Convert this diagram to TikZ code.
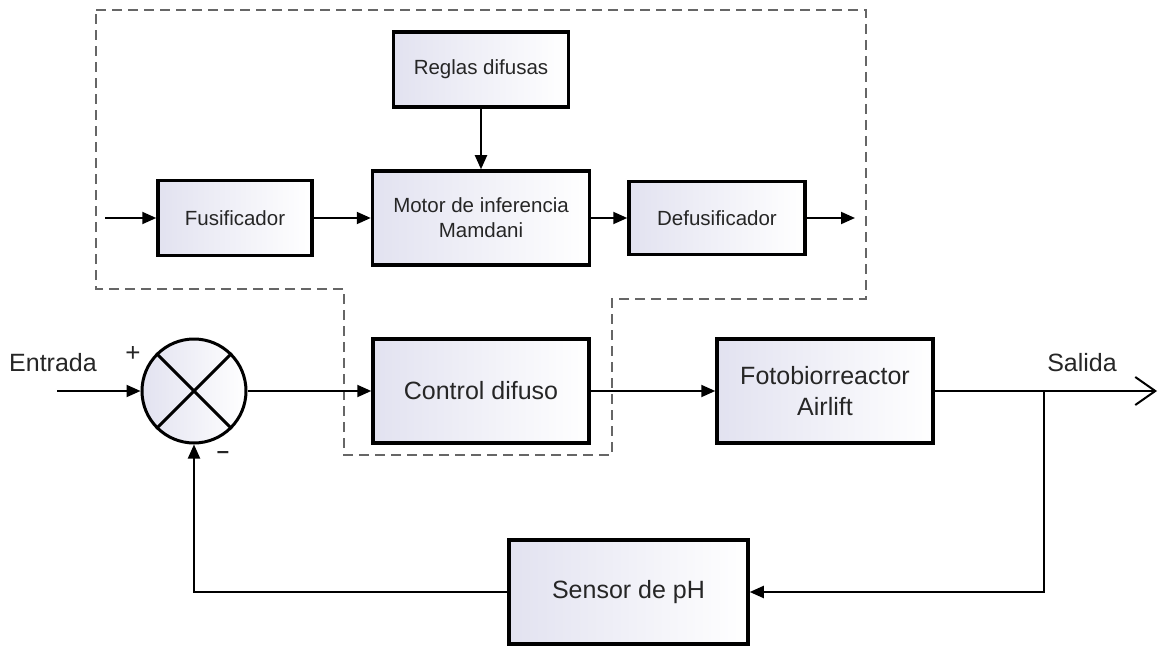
\documentclass[tikz,border=0pt]{standalone}
\usepackage{fontspec}
\setmainfont{Liberation Sans}
\usetikzlibrary{arrows.meta, positioning, calc}
\definecolor{lila}{RGB}{226,226,240}

\begin{document}
\begin{tikzpicture}[x=1pt, y=-1pt,
    bloque/.style={draw, rectangle, line width=3.5pt, inner sep=0pt, align=center,
      text=black!85, left color=lila, right color=white},
    flecha/.style={line width=2pt, -{Triangle[length=14pt,width=12pt]}},
    linea/.style={line width=2pt},
    chico/.style={font=\fontsize{20.5}{25}\selectfont},
    grande/.style={font=\fontsize{25}{31}\selectfont},
    signo/.style={font=\fontsize{26}{30}\selectfont, text=black!85},
    marco/.style={line width=2pt, draw=black!60, dash pattern=on 10pt off 6pt}]
  \useasboundingbox (0,0) rectangle (1159,650);

  % Controlador difuso (detalle)
  \draw[marco] (96,10) -- (866,10) -- (866,299) -- (612,299) -- (612,455)
    -- (344,455) -- (344,289) -- (96,289) -- cycle;
  \node[bloque, chico, minimum width=175, minimum height=75] (reglas) at (481,69.5) {Reglas difusas};
  \node[bloque, chico, minimum width=154, minimum height=75] (fusif) at (235,218) {Fusificador};
  \node[bloque, chico, minimum width=217, minimum height=94] (motor) at (481,218) {Motor de inferencia\\Mamdani};
  \node[bloque, chico, minimum width=176, minimum height=73] (defus) at (717,218) {Defusificador};
  \coordinate (fin) at (105,218);
  \coordinate (fout) at (855,218);
  \draw[flecha] (fin) -- (fusif);
  \draw[flecha] (fusif) -- (motor);
  \draw[flecha] (motor) -- (defus);
  \draw[flecha] (defus) -- (fout);
  \draw[flecha] (reglas) -- (motor);

  % Lazo cerrado
  \node[draw, circle, line width=3pt, minimum size=104, inner sep=0pt,
    left color=lila, right color=white] (suma) at (194,391) {};
  \draw[line width=3pt] (suma.north west) -- (suma.south east);
  \draw[line width=3pt] (suma.north east) -- (suma.south west);
  \node[bloque, grande, minimum width=216, minimum height=104] (control) at (481,391) {Control difuso};
  \node[bloque, grande, minimum width=216, minimum height=104] (planta) at (825,391) {Fotobiorreactor\\Airlift};
  \node[bloque, grande, minimum width=239, minimum height=104] (sensor) at (628.5,592) {Sensor de pH};

  \coordinate (ent) at (57,391);
  \coordinate (sal) at (1157,391);
  \coordinate (rama) at (1044,391);
  \node[grande, text=black!85] (tent) at (53,363) {Entrada};
  \node[grande, text=black!85] (tsal) at (1082,363) {Salida};
  \node[signo] (mas) at (133,354) {+};
  \node[signo, font=\fontsize{22}{26}\selectfont\bfseries] (menos) at (223,455) {--};

  \draw[flecha] (ent) -- (suma);
  \draw[flecha] (suma) -- (control);
  \draw[flecha] (control) -- (planta);
  \draw[linea, -{Straight Barb[length=20pt,width=28pt]}] (planta) -- (sal);
  \draw[flecha] (rama) |- (sensor);
  \draw[flecha] (sensor) -| (suma);
\end{tikzpicture}
\end{document}
